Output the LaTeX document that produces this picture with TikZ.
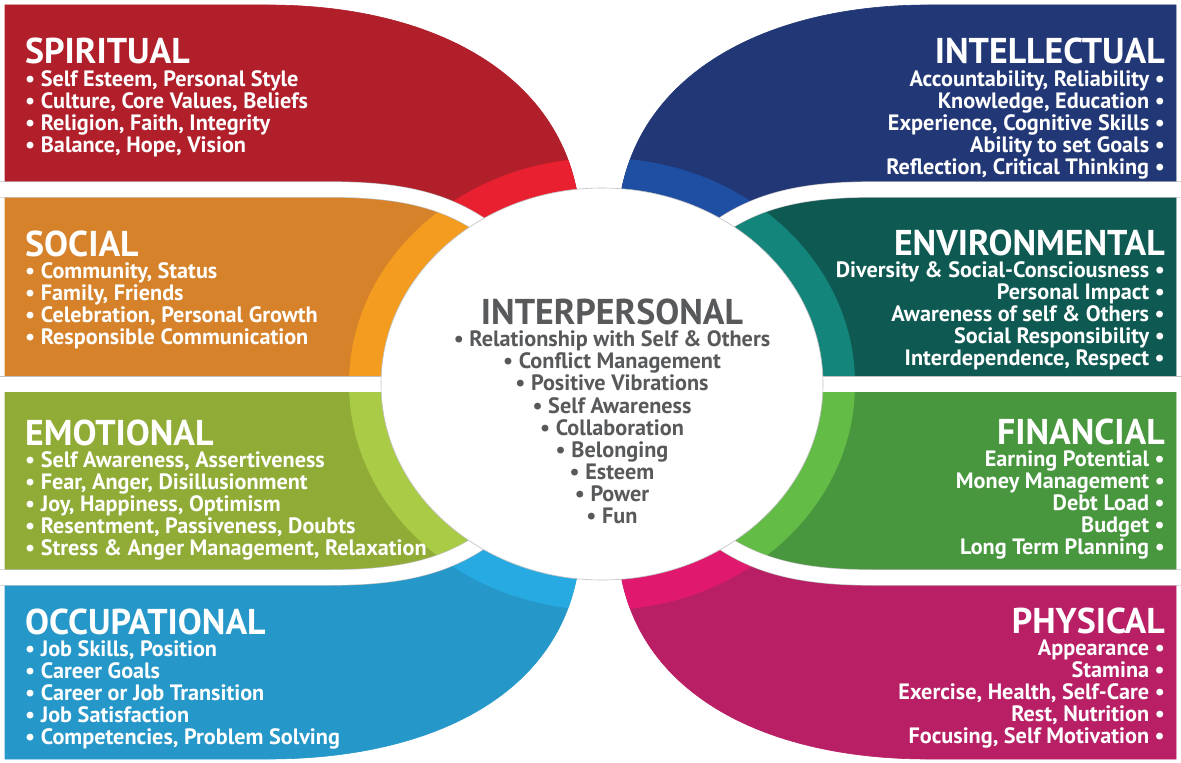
\documentclass[tikz,border=0pt]{standalone}
\usepackage{fontspec}
\setmainfont{PT Sans}
\usetikzlibrary{positioning}

% band colours: main fill and the lighter ring strip
\definecolor{spiritred}{RGB}{176,31,42}
\definecolor{spiritlight}{RGB}{232,32,47}
\definecolor{socialorange}{RGB}{214,130,42}
\definecolor{sociallight}{RGB}{243,156,31}
\definecolor{emotiongreen}{RGB}{144,172,55}
\definecolor{emotionlight}{RGB}{169,203,69}
\definecolor{occublue}{RGB}{37,151,200}
\definecolor{occulight}{RGB}{39,169,225}
\definecolor{intelnavy}{RGB}{34,56,118}
\definecolor{intellight}{RGB}{31,79,163}
\definecolor{envteal}{RGB}{14,90,82}
\definecolor{envlight}{RGB}{19,133,122}
\definecolor{fingreen}{RGB}{72,150,62}
\definecolor{finlight}{RGB}{98,188,70}
\definecolor{physmagenta}{RGB}{184,31,101}
\definecolor{physlight}{RGB}{224,25,111}
\definecolor{coretext}{RGB}{88,89,91}

\begin{document}
\begin{tikzpicture}
        [x=1bp, y=-1bp,
        every node/.style={inner sep=0},
        band/.style={draw=black!25, line width=0.6bp},
        seam/.style={draw=black!25, line width=0.6bp, double=white, double distance=15bp},
        heading/.style={font=\fontsize{36}{36}\selectfont\bfseries, text=white},
        leftlist/.style={align=left, anchor=base west, text=white, font=\fontsize{22.3}{22.2}\selectfont\bfseries},
        rightlist/.style={align=right, anchor=base east, text=white, font=\fontsize{22.3}{22.2}\selectfont\bfseries}]

        \useasboundingbox (0,0) rectangle (1181,763);

        % the eight bands, each cut by the middle circle
        \path[save path=\spiritualband] (5,5) -- (268,5) .. controls (430,5) and (558,72) .. (578,198) -- (600,384) -- (485,228) .. controls (445,200) and (400,189.5) .. (330,189.5) -- (5,189.5) -- cycle;
        \path[save path=\socialband] (5,189.5) -- (330,189.5) .. controls (400,189.5) and (445,200) .. (485,228) -- (600,384) -- (5,384) -- cycle;
        \path[save path=\emotionalband] (5,384) -- (600,384) -- (485,539) .. controls (445,567) and (400,577.5) .. (330,577.5) -- (5,577.5) -- cycle;
        \path[save path=\occupationalband] (5,577.5) -- (330,577.5) .. controls (400,577.5) and (445,567) .. (485,539) -- (600,384) -- (578,570) .. controls (558,696) and (430,759) .. (268,759) -- (5,759) -- cycle;
        \path[save path=\intellectualband] (1176,5) -- (928,5) .. controls (768,5) and (640,72) .. (620,198) -- (600,384) -- (718,228) .. controls (758,200) and (803,189.5) .. (873,189.5) -- (1176,189.5) -- cycle;
        \path[save path=\environmentalband] (1176,189.5) -- (873,189.5) .. controls (803,189.5) and (758,200) .. (718,228) -- (600,384) -- (1176,384) -- cycle;
        \path[save path=\financialband] (1176,384) -- (600,384) -- (718,539) .. controls (758,567) and (803,577.5) .. (873,577.5) -- (1176,577.5) -- cycle;
        \path[save path=\physicalband] (1176,577.5) -- (873,577.5) .. controls (803,577.5) and (758,567) .. (718,539) -- (600,384) -- (620,570) .. controls (640,696) and (768,759) .. (928,759) -- (1176,759) -- cycle;

        \fill[band, spiritred, use path=\spiritualband];
        \fill[band, socialorange, use path=\socialband];
        \fill[band, emotiongreen, use path=\emotionalband];
        \fill[band, occublue, use path=\occupationalband];
        \fill[band, intelnavy, use path=\intellectualband];
        \fill[band, envteal, use path=\environmentalband];
        \fill[band, fingreen, use path=\financialband];
        \fill[band, physmagenta, use path=\physicalband];

        % lighter ring strips next to the circle
        \begin{scope}
          \clip[use path=\spiritualband];
          \fill[spiritlight] (602,384) ellipse [x radius=253, y radius=226];
        \end{scope}
        \begin{scope}
          \clip[use path=\socialband];
          \fill[sociallight] (602,384) ellipse [x radius=253, y radius=226];
        \end{scope}
        \begin{scope}
          \clip[use path=\emotionalband];
          \fill[emotionlight] (602,384) ellipse [x radius=253, y radius=226];
        \end{scope}
        \begin{scope}
          \clip[use path=\occupationalband];
          \fill[occulight] (602,384) ellipse [x radius=253, y radius=226];
        \end{scope}
        \begin{scope}
          \clip[use path=\intellectualband];
          \fill[intellight] (602,384) ellipse [x radius=253, y radius=226];
        \end{scope}
        \begin{scope}
          \clip[use path=\environmentalband];
          \fill[envlight] (602,384) ellipse [x radius=253, y radius=226];
        \end{scope}
        \begin{scope}
          \clip[use path=\financialband];
          \fill[finlight] (602,384) ellipse [x radius=253, y radius=226];
        \end{scope}
        \begin{scope}
          \clip[use path=\physicalband];
          \fill[physlight] (602,384) ellipse [x radius=253, y radius=226];
        \end{scope}

        % white seams between the bands
        \draw[seam] (0,189.5) -- (330,189.5) .. controls (400,189.5) and (445,200) .. (485,228);
        \draw[seam] (0,384) -- (450,384);
        \draw[seam] (0,577.5) -- (330,577.5) .. controls (400,577.5) and (445,567) .. (485,539);
        \draw[seam] (1181,189.5) -- (873,189.5) .. controls (803,189.5) and (758,200) .. (718,228);
        \draw[seam] (1181,384) -- (750,384);
        \draw[seam] (1181,577.5) -- (873,577.5) .. controls (803,577.5) and (758,567) .. (718,539);

        % middle circle
        \filldraw[fill=white, draw=black!25, line width=0.6bp] (602,384) ellipse [x radius=221, y radius=196];

        % left column (lists sit on the baseline of their last line)
        \node[heading, anchor=base west] (spiritual) at (25,64) {SPIRITUAL};
        \node[leftlist] (spiritual-items) at (25,152.6) {• Self Esteem, Personal Style\\• Culture, Core Values, Beliefs\\• Religion, Faith, Integrity\\• Balance, Hope, Vision};
        \node[heading, anchor=base west] (social) at (25,256) {SOCIAL};
        \node[leftlist] (social-items) at (25,344.6) {• Community, Status\\• Family, Friends\\• Celebration, Personal Growth\\• Responsible Communication};
        \node[heading, anchor=base west] (emotional) at (25,445) {EMOTIONAL};
        \node[leftlist] (emotional-items) at (25,555.8) {• Self Awareness, Assertiveness\\• Fear, Anger, Disillusionment\\• Joy, Happiness, Optimism\\• Resentment, Passiveness, Doubts\\• Stress \& Anger Management, Relaxation};
        \node[heading, anchor=base west] (occupational) at (25,634) {OCCUPATIONAL};
        \node[leftlist] (occupational-items) at (25,744.8) {• Job Skills, Position\\• Career Goals\\• Career or Job Transition\\• Job Satisfaction\\• Competencies, Problem Solving};

        % right column
        \node[heading, anchor=base east] (intellectual) at (1165,64) {INTELLECTUAL};
        \node[rightlist] (intellectual-items) at (1165,174.8) {Accountability, Reliability •\\Knowledge, Education •\\Experience, Cognitive Skills •\\Ability to set Goals •\\Reflection, Critical Thinking •};
        \node[heading, anchor=base east] (environmental) at (1165,255) {ENVIRONMENTAL};
        \node[rightlist] (environmental-items) at (1165,365.8) {Diversity \& Social-Consciousness •\\Personal Impact •\\Awareness of self \& Others •\\Social Responsibility •\\Interdependence, Respect •};
        \node[heading, anchor=base east] (financial) at (1165,444) {FINANCIAL};
        \node[rightlist] (financial-items) at (1165,554.8) {Earning Potential •\\Money Management •\\Debt Load •\\Budget •\\Long Term Planning •};
        \node[heading, anchor=base east] (physical) at (1165,633) {PHYSICAL};
        \node[rightlist] (physical-items) at (1165,743.8) {Appearance •\\Stamina •\\Exercise, Health, Self-Care •\\Rest, Nutrition •\\Focusing, Self Motivation •};

        % centre
        \node[heading, text=coretext, anchor=base] (interpersonal) at (612,324) {INTERPERSONAL};
        \node[leftlist, align=center, anchor=base, text=coretext] (interpersonal-items) at (612,523.6) {• Relationship with Self \& Others\\• Conflict Management\\• Positive Vibrations\\• Self Awareness\\• Collaboration\\• Belonging\\• Esteem\\• Power\\• Fun};

      \end{tikzpicture}
\end{document}
